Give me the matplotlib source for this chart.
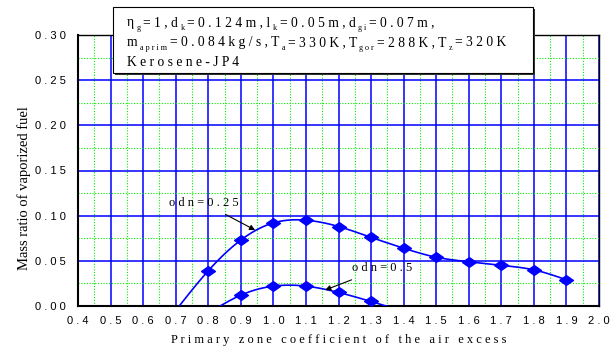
import numpy as np
import matplotlib
matplotlib.use("Agg")
import matplotlib.pyplot as plt
from matplotlib.patches import Rectangle

# Fuel vaporization versus primary-zone air excess coefficient
alpha_025 = [0.7, 0.8, 0.9, 1.0, 1.1, 1.2, 1.3, 1.4, 1.5, 1.6, 1.7, 1.8, 1.9]
vap_025 = [-0.005, 0.039, 0.073, 0.092, 0.095, 0.088, 0.076, 0.064, 0.054, 0.049, 0.045, 0.040, 0.029]
alpha_05 = [0.8, 0.9, 1.0, 1.1, 1.2, 1.3, 1.4]
vap_05 = [-0.008, 0.012, 0.022, 0.022, 0.015, 0.005, -0.006]

x_ticks = [0.4, 0.5, 0.6, 0.7, 0.8, 0.9, 1.0, 1.1, 1.2, 1.3, 1.4, 1.5, 1.6, 1.7, 1.8, 1.9, 2.0]
y_ticks = [0.00, 0.05, 0.10, 0.15, 0.20, 0.25, 0.30]

BLUE = "#0000ff"
GREEN = "#00ee00"
SERIF = "Liberation Serif"
SANS = "Liberation Sans"

# flattened diamond marker
DIAMOND = [(-1, 0), (0, 0.7), (1, 0), (0, -0.7), (-1, 0)]


def spaced(s):
    return " ".join(s)


def natural_spline(x, y, n=400):
    x = np.asarray(x, float)
    y = np.asarray(y, float)
    k = len(x)
    h = np.diff(x)
    A = np.zeros((k, k))
    b = np.zeros(k)
    A[0, 0] = A[-1, -1] = 1.0
    for i in range(1, k - 1):
        A[i, i - 1] = h[i - 1]
        A[i, i] = 2 * (h[i - 1] + h[i])
        A[i, i + 1] = h[i]
        b[i] = 6 * ((y[i + 1] - y[i]) / h[i] - (y[i] - y[i - 1]) / h[i - 1])
    M = np.linalg.solve(A, b)
    xs = np.linspace(x[0], x[-1], n)
    idx = np.clip(np.searchsorted(x, xs) - 1, 0, k - 2)
    x0, x1 = x[idx], x[idx + 1]
    hh = x1 - x0
    t0, t1 = x1 - xs, xs - x0
    ys = (M[idx] * t0 ** 3 + M[idx + 1] * t1 ** 3) / (6 * hh) \
        + (y[idx] / hh - M[idx] * hh / 6) * t0 \
        + (y[idx + 1] / hh - M[idx + 1] * hh / 6) * t1
    return xs, ys


fig = plt.figure(figsize=(6.16, 3.49), dpi=100)
ax = fig.add_axes([78 / 616, 1 - 306 / 349, 521 / 616, 271 / 349])
ax.set_xlim(0.4, 2.0)
ax.set_ylim(0.0, 0.30)

ax.set_xticks(x_ticks)
ax.set_xticklabels([spaced(f"{v:.1f}") for v in x_ticks], fontfamily=SANS, fontsize=8)
ax.set_yticks(y_ticks)
ax.set_yticklabels([spaced(f"{v:.2f}") for v in y_ticks], fontfamily=SANS, fontsize=8)
ax.set_xticks(np.arange(0.45, 2.0, 0.1), minor=True)
ax.set_yticks(np.arange(0.025, 0.30, 0.05), minor=True)
ax.tick_params(which="both", length=0)
ax.tick_params(axis="x", pad=7)
ax.tick_params(axis="y", pad=9)

ax.grid(which="minor", color=GREEN, linestyle=(0, (1, 1.5)), linewidth=0.8)
ax.grid(which="major", color=BLUE, linestyle="-", linewidth=1.1)
ax.set_axisbelow(True)
for side in ("left", "bottom"):
    ax.spines[side].set_linewidth(1.5)
for side in ("top", "right"):
    ax.spines[side].set_linewidth(1.0)

for xs_, ys_ in ((alpha_025, vap_025), (alpha_05, vap_05)):
    cx, cy = natural_spline(xs_, ys_)
    ax.plot(cx, cy, color=BLUE, linewidth=1.2, zorder=3)
    xa, ya = np.asarray(xs_), np.asarray(ys_)
    m = ya > 0
    ax.plot(xa[m], ya[m], linestyle="none", marker=DIAMOND, markersize=10,
            color=BLUE, zorder=4, clip_on=False)

ax.annotate(spaced("odn=0.25"), xy=(0.944, 0.084), xytext=(0.787, 0.114),
            fontfamily=SERIF, fontsize=9, ha="center", va="center",
            arrowprops=dict(arrowstyle="-|>", color="black", lw=0.8,
                            shrinkA=4, shrinkB=0, mutation_scale=8))
ax.annotate(spaced("odn=0.5"), xy=(1.159, 0.0177), xytext=(1.334, 0.042),
            fontfamily=SERIF, fontsize=9, ha="center", va="center",
            arrowprops=dict(arrowstyle="-|>", color="black", lw=0.8,
                            shrinkA=6, shrinkB=0, mutation_scale=8))

ax.set_xlabel(spaced("Primary") + "   " + spaced("zone") + "   " + spaced("coefficient")
              + "   " + spaced("of") + "   " + spaced("the") + "   " + spaced("air")
              + "   " + spaced("excess"), fontfamily=SERIF, fontsize=9, labelpad=6)
ax.set_ylabel("Mass ratio of vaporized fuel", fontfamily=SERIF, fontsize=10.5)
ax.yaxis.set_label_coords(-0.09, 0.435)

# Parameter box with drop shadow
W, H = 616, 349
bx0, bx1, by0, by1 = 113, 533, 7, 73
fig.patches.append(Rectangle((bx0 / W + 2 / W, 1 - by1 / H - 2 / H), (bx1 - bx0) / W,
                             (by1 - by0) / H, transform=fig.transFigure,
                             facecolor="#333333", edgecolor="none", zorder=10))
fig.patches.append(Rectangle((bx0 / W, 1 - by1 / H), (bx1 - bx0) / W, (by1 - by0) / H,
                             transform=fig.transFigure, facecolor="white",
                             edgecolor="black", linewidth=0.8, zorder=11))

fig.canvas.draw()
renderer = fig.canvas.get_renderer()


def draw_segments(x_px, base_px, segments, size=9.8):
    x = x_px
    for txt, sub in segments:
        fs = size * 0.6 if sub else size
        y = base_px + (4 if sub else 0)
        t = fig.text(x / W, 1 - y / H, txt, fontfamily=SERIF, fontsize=fs,
                     va="baseline", ha="left", zorder=12)
        bb = t.get_window_extent(renderer)
        x += bb.width + 2.5


draw_segments(127, 26, [("η", False), (spaced("g"), True), (spaced("=1,d"), False),
                        ("k", True), (spaced("=0.124m,l"), False), ("k", True),
                        (spaced("=0.05m,d"), False), (spaced("gi"), True),
                        (spaced("=0.07m,"), False)])
draw_segments(127, 46, [("m", False), (spaced("aprim"), True), (spaced("=0.084kg/s,") + " T", False),
                        ("a", True), (spaced("=330K,T"), False), (spaced("gor"), True),
                        (spaced("=288K,T"), False), ("z", True), (spaced("=320K"), False)])
draw_segments(127, 66, [(spaced("Kerosene-JP4"), False)])

fig.savefig("out.png", dpi=100)
